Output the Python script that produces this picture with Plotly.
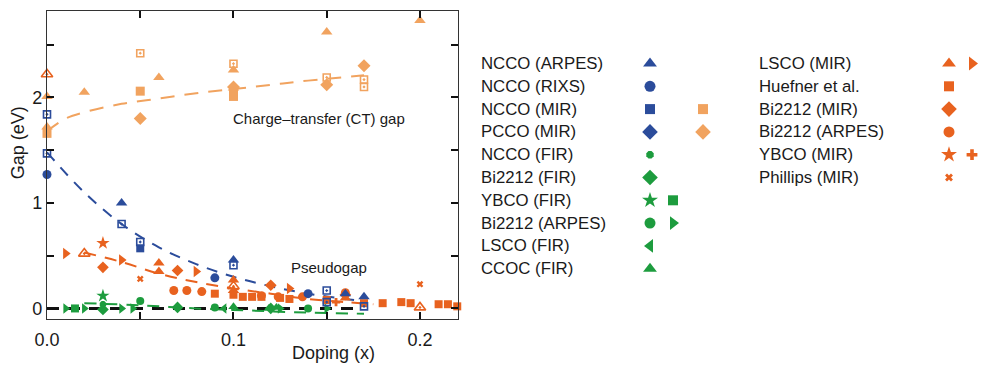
import plotly.graph_objects as go

BLUE = '#2b4c9b'
LORANGE = '#f1a35f'
RORANGE = '#e8621f'
GREEN = '#1d9c3e'

# ---- NCCO (blue) ----
ncco_arpes_x = [0.04, 0.10, 0.16, 0.17]
ncco_arpes_y = [1.00, 0.46, 0.14, 0.11]
ncco_rixs_x = [0.0, 0.09, 0.14]
ncco_rixs_y = [1.27, 0.29, 0.14]
ncco_mir_x = [0.0, 0.0, 0.04, 0.05, 0.10, 0.15, 0.15, 0.17]
ncco_mir_y = [1.84, 1.47, 0.80, 0.63, 0.41, 0.17, 0.06, 0.02]
ncco_mir_fill_x = [0.05]
ncco_mir_fill_y = [0.57]
ncco_fit_x = [0.0, 0.02, 0.04, 0.06, 0.08, 0.10, 0.12, 0.14, 0.16, 0.17]
ncco_fit_y = [1.48, 1.10, 0.80, 0.58, 0.42, 0.30, 0.21, 0.14, 0.09, 0.07]

# ---- charge-transfer gap (light orange) ----
ct_sq_x = [0.0, 0.05, 0.10, 0.10]
ct_sq_y = [1.66, 2.06, 2.06, 2.01]
ct_sq_open_x = [0.05, 0.10, 0.15, 0.17, 0.17]
ct_sq_open_y = [2.42, 2.32, 2.19, 2.17, 2.10]
ct_dia_x = [0.05, 0.10, 0.15, 0.17]
ct_dia_y = [1.80, 2.10, 2.12, 2.30]
ct_tri_x = [0.0, 0.0, 0.02, 0.06, 0.10, 0.10, 0.15, 0.20]
ct_tri_y = [2.01, 1.72, 2.05, 2.19, 2.26, 2.09, 2.62, 2.73]
ct_fit_x = [0.0, 0.01, 0.02, 0.04, 0.06, 0.08, 0.10, 0.12, 0.14, 0.17]
ct_fit_y = [1.68, 1.80, 1.86, 1.94, 1.99, 2.04, 2.08, 2.12, 2.16, 2.21]

# ---- pseudogap (red orange) ----
lsco_tri_x = [0.06, 0.06, 0.10, 0.10, 0.16]
lsco_tri_y = [0.43, 0.35, 0.27, 0.17, 0.10]
lsco_open_x = [0.0, 0.02, 0.10, 0.20]
lsco_open_y = [2.22, 0.52, 0.21, 0.01]
lsco_right_x = [0.01, 0.04, 0.08, 0.13]
lsco_right_y = [0.52, 0.46, 0.35, 0.19]
huefner_x = [0.09, 0.10, 0.105, 0.11, 0.115, 0.125, 0.13, 0.15, 0.17, 0.18, 0.19, 0.195, 0.21, 0.215, 0.22]
huefner_y = [0.14, 0.13, 0.11, 0.11, 0.11, 0.10, 0.09, 0.08, 0.05, 0.05, 0.06, 0.05, 0.04, 0.04, 0.02]
bi_mir_x = [0.03, 0.07, 0.12, 0.16]
bi_mir_y = [0.39, 0.36, 0.22, 0.13]
bi_arpes_x = [0.068, 0.075, 0.083, 0.115, 0.124, 0.137, 0.16]
bi_arpes_y = [0.17, 0.17, 0.16, 0.12, 0.11, 0.11, 0.15]
ybco_star_x = [0.03]
ybco_star_y = [0.62]
ybco_plus_x = [0.155]
ybco_plus_y = [0.06]
phillips_x = [0.05, 0.20]
phillips_y = [0.28, 0.23]
pg_fit_x = [0.02, 0.04, 0.06, 0.08, 0.10, 0.12, 0.14, 0.16, 0.175]
pg_fit_y = [0.53, 0.44, 0.33, 0.25, 0.19, 0.14, 0.09, 0.06, 0.04]

# ---- FIR / ARPES (green) ----
g_ncco_fir_x = [0.03]
g_ncco_fir_y = [0.04]
g_bi_fir_x = [0.03, 0.07, 0.12]
g_bi_fir_y = [-0.01, 0.01, 0.0]
g_ybco_star_x = [0.03]
g_ybco_star_y = [0.12]
g_ybco_sq_x = [0.015]
g_ybco_sq_y = [0.0]
g_bi_arpes_x = [0.05, 0.09, 0.14]
g_bi_arpes_y = [0.07, 0.01, 0.0]
g_bi_right_x = [0.01, 0.02, 0.04, 0.046, 0.125, 0.15]
g_bi_right_y = [0.0, 0.0, 0.0, 0.0, 0.0, 0.0]
g_lsco_x = [0.095]
g_lsco_y = [0.0]
g_ccoc_x = [0.10, 0.119, 0.123]
g_ccoc_y = [0.015, 0.0, 0.01]
g_fit_x = [0.02, 0.05, 0.08, 0.11, 0.14, 0.17]
g_fit_y = [0.05, 0.03, 0.0, -0.02, -0.04, -0.05]

zero_x = [0.0, 0.165]
zero_y = [0.0, 0.0]

# legend: (label, [(symbol, color), ...])
legend_left = [
    ("NCCO (ARPES)", [("triangle-up", BLUE)]),
    ("NCCO (RIXS)", [("circle", BLUE)]),
    ("NCCO (MIR)", [("square", BLUE), None, ("square", LORANGE)]),
    ("PCCO (MIR)", [("diamond", BLUE), None, ("diamond", LORANGE)]),
    ("NCCO (FIR)", [("octagon", GREEN)]),
    ("Bi2212 (FIR)", [("diamond", GREEN)]),
    ("YBCO (FIR)", [("star", GREEN), ("square", GREEN)]),
    ("Bi2212 (ARPES)", [("circle", GREEN), ("triangle-right", GREEN)]),
    ("LSCO (FIR)", [("triangle-left", GREEN)]),
    ("CCOC (FIR)", [("triangle-up", GREEN)]),
]
legend_right = [
    ("LSCO (MIR)", [("triangle-up", RORANGE), ("triangle-right", RORANGE)]),
    ("Huefner et al.", [("square", RORANGE)]),
    ("Bi2212 (MIR)", [("diamond", RORANGE)]),
    ("Bi2212 (ARPES)", [("circle", RORANGE)]),
    ("YBCO (MIR)", [("star", RORANGE), ("cross", RORANGE)]),
    ("Phillips (MIR)", [("x", RORANGE)]),
]

fig = go.Figure()


def add_line(x, y, color, width=2, dash='10px,8px'):
    fig.add_trace(go.Scatter(x=x, y=y, mode='lines', line=dict(color=color, width=width, dash=dash, shape='spline'),
                             hoverinfo='skip'))


def add_points(x, y, symbol, color, size=9):
    open_sym = 'open' in symbol
    fig.add_trace(go.Scatter(
        x=x, y=y, mode='markers', cliponaxis=False,
        marker=dict(symbol=symbol, color=color, size=size,
                    line=dict(color=color, width=1.6 if open_sym else 0))
    ))


# fits
add_line(zero_x, zero_y, '#111111', width=3, dash='12px,9px')
add_line(g_fit_x, g_fit_y, GREEN, dash='12px,9px')
add_line(ncco_fit_x, ncco_fit_y, BLUE, dash='11px,9px')
add_line(ct_fit_x, ct_fit_y, LORANGE, dash='14px,10px')
add_line(pg_fit_x, pg_fit_y, RORANGE, dash='12px,9px')

# green
add_points(g_bi_right_x, g_bi_right_y, 'triangle-right', GREEN)
add_points(g_ybco_sq_x, g_ybco_sq_y, 'square', GREEN, 8)
add_points(g_ybco_star_x, g_ybco_star_y, 'star', GREEN, 10)
add_points(g_ncco_fir_x, g_ncco_fir_y, 'octagon', GREEN, 7)
add_points(g_bi_fir_x, g_bi_fir_y, 'diamond', GREEN, 9)
add_points(g_bi_arpes_x, g_bi_arpes_y, 'circle', GREEN, 8)
add_points(g_lsco_x, g_lsco_y, 'triangle-left', GREEN)
add_points(g_ccoc_x, g_ccoc_y, 'triangle-up', GREEN)

# charge transfer
add_points(ct_tri_x, ct_tri_y, 'triangle-up', LORANGE, 10)
add_points(ct_sq_x, ct_sq_y, 'square', LORANGE, 9)
add_points(ct_sq_open_x, ct_sq_open_y, 'square-open-dot', LORANGE, 7)
add_points(ct_dia_x, ct_dia_y, 'diamond', LORANGE, 10)

# pseudogap
add_points(huefner_x, huefner_y, 'square', RORANGE, 8)
add_points(bi_arpes_x, bi_arpes_y, 'circle', RORANGE, 9)
add_points(bi_mir_x, bi_mir_y, 'diamond', RORANGE, 9)
add_points(lsco_tri_x, lsco_tri_y, 'triangle-up', RORANGE, 10)
add_points(lsco_right_x, lsco_right_y, 'triangle-right', RORANGE, 10)
add_points(lsco_open_x, lsco_open_y, 'triangle-up-open-dot', RORANGE, 10)
add_points(ybco_star_x, ybco_star_y, 'star', RORANGE, 10)
add_points(ybco_plus_x, ybco_plus_y, 'cross', RORANGE, 7)
add_points(phillips_x, phillips_y, 'x', RORANGE, 6)

# NCCO
add_points(ncco_mir_fill_x, ncco_mir_fill_y, 'square', BLUE, 8)
add_points(ncco_mir_x, ncco_mir_y, 'square-open-dot', BLUE, 7)
add_points(ncco_rixs_x, ncco_rixs_y, 'circle', BLUE, 9)
add_points(ncco_arpes_x, ncco_arpes_y, 'triangle-up', BLUE, 10)

# ---- custom legend on a pixel-scaled helper axis (reference pixel units) ----
leg_font = dict(family='Liberation Sans, Arial, sans-serif', size=16.8, color='#1a1a1a')
annotations = []


def add_legend_column(entries, text_x, marker_xs, y0, dy):
    for i, (label, marks) in enumerate(entries):
        yy = y0 + i * dy
        annotations.append(dict(x=text_x, y=yy, xref='x2', yref='y2', text=label, showarrow=False,
                                xanchor='left', yanchor='middle', font=leg_font))
        for j, m in enumerate(marks):
            if m is None:
                continue
            sym, col = m
            mx = marker_xs[j]
            size = {'octagon': 8, 'x': 7, 'cross': 9, 'square': 10, 'circle': 11}.get(sym, 12)
            fig.add_trace(go.Scatter(x=[mx], y=[yy], xaxis='x2', yaxis='y2', mode='markers',
                                     cliponaxis=False,
                                     marker=dict(symbol=sym, color=col, size=size, line=dict(width=0))))


add_legend_column(legend_left, 479, [650, 673, 703], 63.5, 22.8)
add_legend_column(legend_right, 757, [949, 972], 63.5, 22.8)

tick_font = dict(family='Liberation Sans, Arial, sans-serif', size=18, color='#1a1a1a')
label_font = dict(family='Liberation Sans, Arial, sans-serif', size=15, color='#1a1a1a')

annotations += [
    dict(x=0.146, y=1.80, xref='x', yref='y', text='Charge\u2013transfer (CT) gap', showarrow=False,
         font=label_font),
    dict(x=0.151, y=0.39, xref='x', yref='y', text='Pseudogap', showarrow=False, font=label_font),
    dict(x=-0.031, y=0.571, xref='paper', yref='paper', text='Gap (eV)', showarrow=False,
         xanchor='center', yanchor='middle', textangle=-90, font=tick_font),
    dict(x=0.1535, y=-0.11, xref='x', yref='paper', text='Doping (x)', showarrow=False,
         xanchor='center', yanchor='middle', font=tick_font),
]

# the page body has an 8px margin, so the figure is sized/offset to land where the reference is
fig.update_layout(
    width=973, height=363,
    margin=dict(l=39, r=0, t=3, b=52),
    plot_bgcolor='white', paper_bgcolor='white',
    showlegend=False,
    annotations=annotations,
    xaxis=dict(domain=[0, 0.44004], range=[0, 0.2204],
               tickvals=[0, 0.05, 0.1, 0.15, 0.2], ticktext=['0.0', '', '0.1', '', '0.2'],
               ticks='inside', ticklen=7, tickwidth=1.5, tickcolor='#111',
               showline=True, linecolor='#333', linewidth=1.2, mirror='ticks',
               showgrid=False, zeroline=False, tickfont=tick_font, ticklabelstandoff=4),
    yaxis=dict(range=[-0.1, 2.82],
               tickvals=[0, 0.5, 1, 1.5, 2, 2.5], ticktext=['0', '', '1', '', '2', ''],
               ticks='inside', ticklen=7, tickwidth=1.5, tickcolor='#111',
               showline=True, linecolor='#333', linewidth=1.2, mirror='ticks',
               showgrid=False, zeroline=False, tickfont=tick_font),
    xaxis2=dict(domain=[0.44004, 1], range=[458, 981], anchor='y2', visible=False, fixedrange=True),
    yaxis2=dict(domain=[0, 1], range=[319, 11], anchor='x2', visible=False, fixedrange=True),
)

fig.write_html("out.html")
